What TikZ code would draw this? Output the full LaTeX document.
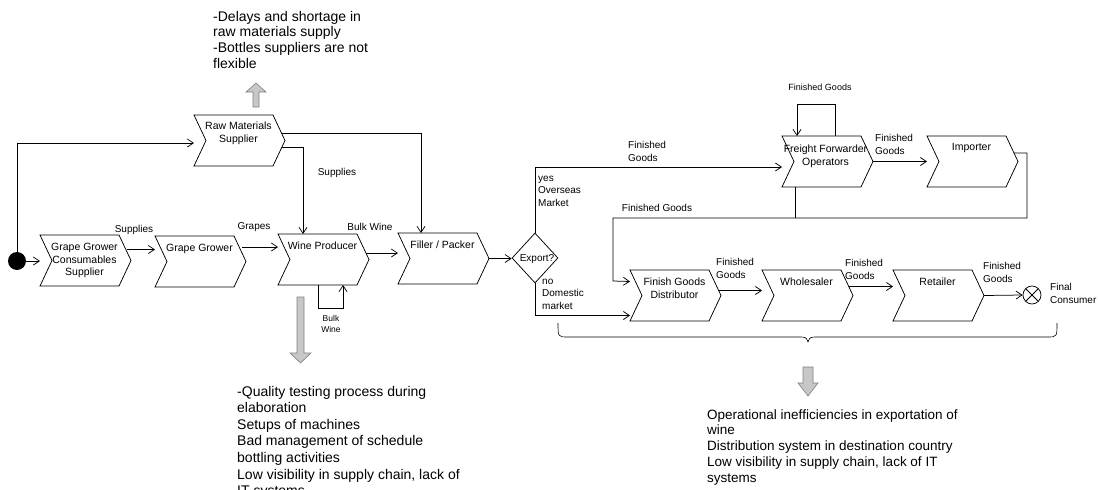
\documentclass[tikz,border=0pt]{standalone}
\usepackage{fontspec}
\setmainfont{Liberation Sans}
\usetikzlibrary{arrows.meta,shapes.geometric}
\begin{document}
\begin{tikzpicture}[x=1pt,y=-1pt,
  line/.style={draw=black, line width=0.75pt},
  arr/.style={line, -{Straight Barb[length=6pt,width=8pt]}},
  fbody/.style={rectangle, minimum width=79pt, minimum height=51pt, inner sep=0pt, outer sep=0pt, anchor=north west},
  chevline/.style={draw=black, line width=0.75pt},
  ftxt/.style={anchor=north, align=center, inner sep=0pt, font=\fontsize{10.5}{12.5}\selectfont},
  elbl/.style={inner sep=0pt, font=\fontsize{10}{12.5}\selectfont},
  mlbl/.style={elbl, align=left, anchor=base west},
  note/.style={inner sep=0pt, align=left, anchor=base west},
  blockarr/.style={fill=black!22, draw=black!50, line width=0.6pt},
]
\useasboundingbox (0,0) rectangle (1098,490);
\fill[white] (0,0) rectangle (1098,490);

% start event and process bodies
\node[fill=black, circle, minimum size=18pt, inner sep=0pt] (st) at (17,261) {};
\node[fbody] (gcs) at (40,235) {};
\node[fbody] (gg)  at (155,236) {};
\node[fbody] (wp)  at (278,234) {};
\node[fbody] (fp)  at (398,233) {};
\node[fbody] (rm)  at (194,115) {};
\node[fbody] (ff)  at (782,136) {};
\node[fbody] (imp) at (927,136) {};
\node[fbody] (fgd) at (630,270) {};
\node[fbody] (wh)  at (762,270) {};
\node[fbody] (rt)  at (893,270) {};
\node[draw, line width=0.75pt, diamond, minimum width=46pt, minimum height=50pt, inner sep=0pt] (ex) at (535,258) {};
\node[draw, line width=0.75pt, circle, minimum size=18pt, inner sep=0pt,
  path picture={\draw[line width=0.75pt] (path picture bounding box.north west) -- (path picture bounding box.south east)
    (path picture bounding box.north east) -- (path picture bounding box.south west);}] (fc) at (1032,295) {};

% chevron outlines of the process steps
\foreach \n in {gcs,gg,wp,fp,rm,ff,imp,fgd,wh,rt}
  \draw[chevline] (\n.north west) -- (\n.north east) -- ([xshift=12pt]\n.east) -- (\n.south east)
    -- (\n.south west) -- ([xshift=12pt]\n.west) -- cycle;

% step names
\node[ftxt] (gcst) at ([xshift=5pt,yshift=-8pt]gcs.north) {Grape Grower\\Consumables\\Supplier};
\node[ftxt] (ggt)  at ([xshift=5pt,yshift=-8pt]gg.north) {Grape Grower};
\node[ftxt] (wpt)  at ([xshift=5pt,yshift=-8pt]wp.north) {Wine Producer};
\node[ftxt] (fpt)  at ([xshift=5pt,yshift=-8pt]fp.north) {Filler / Packer};
\node[ftxt] (rmt)  at ([xshift=5pt,yshift=-7pt]rm.north) {Raw Materials\\Supplier};
\node[ftxt] (fft)  at ([xshift=4pt,yshift=-9pt]ff.north) {Freight Forwarder\\Operators};
\node[ftxt] (impt) at ([xshift=5pt,yshift=-7pt]imp.north) {Importer};
\node[ftxt] (fgdt) at ([xshift=5pt,yshift=-8pt]fgd.north) {Finish Goods\\Distributor};
\node[ftxt] (wht)  at ([xshift=5pt,yshift=-8pt]wh.north) {Wholesaler};
\node[ftxt] (rtt)  at ([xshift=5pt,yshift=-8pt]rt.north) {Retailer};
\node[elbl] (ext) at (537,259) {Export?};

% flows
\draw[arr] (st.east) -- (st.east -| gcs.west);
\draw[arr] (st.north) |- ([yshift=-2.5pt]rm.west);
\draw[arr] ([xshift=8pt,yshift=11pt]gcs.east) -- ([yshift=11pt]gcs.east -| gg.west);
\draw[arr] ([xshift=8pt,yshift=14.5pt]gg.east) -- ([yshift=14.5pt]gg.east -| wp.west);
\draw[arr] ([xshift=9pt,yshift=6.5pt]wp.east) -- ([yshift=6.5pt]wp.east -| fp.west);
\draw[arr] ([xshift=0.5pt]wp.south) -- ++(0,23) -| ([xshift=25.5pt]wp.south);
\draw[arr] ([xshift=12pt]fp.east) -- (fp.east -| ex.west);
\draw[arr] ([xshift=9pt,yshift=-6.5pt]rm.east) -| ([xshift=-14.5pt]wp.north);
\draw[arr] ([xshift=8.5pt,yshift=7.5pt]rm.east) -| ([xshift=-16.5pt]fp.north);
\draw[arr] (ex.north) |- ([yshift=-5.5pt]ff.west);
\draw[arr] (ex.south) |- ([yshift=-20pt]fgd.west);
\draw[arr] ([xshift=12pt]ff.east) -- (imp.west);
\draw[arr] ([xshift=13.5pt]ff.north) -- ++(0,-32) -| ([xshift=-24.5pt]ff.north);
\draw[arr] ([xshift=8pt,yshift=8.5pt]imp.east) -| ++(13,65) -| ++(-414,63) -- ([yshift=14pt]fgd.west);
\draw[line] ([xshift=-26.5pt]ff.south) -- ++(0,31);
\draw[arr] ([xshift=10pt,yshift=5pt]fgd.east) -- ([yshift=5pt]fgd.east -| wh.west);
\draw[arr] ([xshift=8pt,yshift=9pt]wh.east) -- ([yshift=9pt]wh.east -| rt.west);
\draw[arr] ([xshift=12pt]rt.east) -- (fc.west);

% flow labels (multi-line ones sit on the baseline of their last line)
\node[elbl] (l1) at (134,230) {Supplies};
\node[elbl] (l2) at (254,227) {Grapes};
\node[elbl] (l3) at (370,227) {Bulk Wine};
\node[elbl, align=center, anchor=base, font=\fontsize{8.5}{11}\selectfont] (l4) at (331,332) {Bulk\\Wine};
\node[elbl] (l5) at (337,173) {Supplies};
\node[mlbl] (l6) at (628,161) {Finished\\Goods};
\node[mlbl] (l7) at (538,206) {yes\\Overseas\\Market};
\node[mlbl] (l8) at (542,309) {no\\Domestic\\market};
\node[elbl, font=\fontsize{9}{11}\selectfont] (l9) at (820,87) {Finished Goods};
\node[mlbl] (l10) at (875,154) {Finished\\Goods};
\node[elbl] (l11) at (657,208) {Finished Goods};
\node[mlbl] (l12) at (716,278) {Finished\\Goods};
\node[mlbl] (l13) at (845,279) {Finished\\Goods};
\node[mlbl] (l14) at (983,282) {Finished\\Goods};
\node[mlbl] (l15) at (1050,303) {Final\\Consumer};

% grey block arrows pointing to the problem notes
\draw[blockarr] (253,107) -- (253,92) -- (246,92) -- (256,83) -- (266,92) -- (259,92) -- (259,107) -- cycle;
\draw[blockarr] (297,297) -- (297,353) -- (290,353) -- (300.5,363) -- (311,353) -- (304,353) -- (304,297) -- cycle;
\draw[blockarr] (803,367) -- (803,383) -- (798,383) -- (808,396) -- (818,383) -- (813,383) -- (813,367) -- cycle;

% brace under the distribution steps
\draw[line, line width=0.6pt] (558,323) .. controls (558,337) .. (568,337) -- (798,337)
  .. controls (806,337) .. (808,342) .. controls (810,337) .. (818,337) -- (1047,337)
  .. controls (1057,337) .. (1057,323);

% problem notes
\node[note, font=\fontsize{14}{15.6}\selectfont] (n1) at (213,68)
  {-Delays and shortage in\\raw materials supply\\-Bottles suppliers are not\\flexible};
\node[note, font=\fontsize{14}{16.6}\selectfont] (n2) at (237,495.6)
  {-Quality testing process during\\elaboration\\Setups of machines\\Bad management of schedule\\bottling activities\\Low visibility in supply chain, lack of\\IT systems};
\node[note, font=\fontsize{13.5}{15.7}\selectfont] (n3) at (707,482)
  {Operational inefficiencies in exportation of\\wine\\Distribution system in destination country\\Low visibility in supply chain, lack of IT\\systems};
\end{tikzpicture}
\end{document}
